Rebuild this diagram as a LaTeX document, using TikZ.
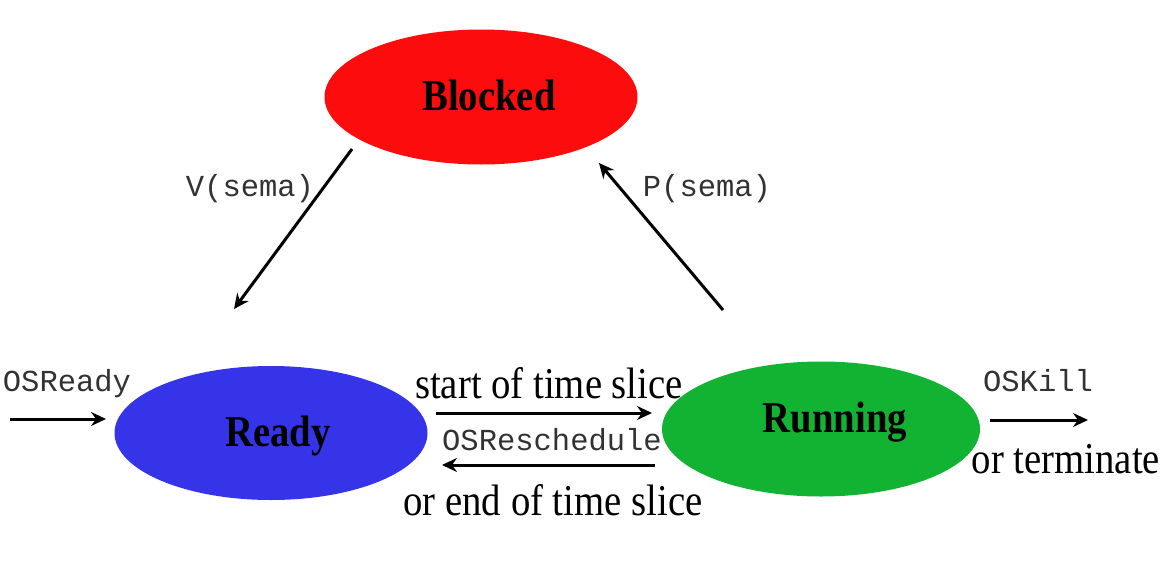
\documentclass[tikz,border=0pt]{standalone}
\usepackage{fontspec}
\usetikzlibrary{shapes.geometric,arrows.meta}
\newfontfamily\lblserif[FakeStretch=0.88]{Liberation Serif}
\newfontfamily\lblmono{Liberation Mono}
\definecolor{blockedred}{RGB}{252,12,12}
\definecolor{readyblue}{RGB}{54,52,232}
\definecolor{runninggreen}{RGB}{18,178,50}
\definecolor{monogray}{RGB}{50,50,50}
\tikzset{
  statebox/.style={ellipse, draw=none, inner sep=0pt, minimum width=#1},
  statetext/.style={anchor=base, font=\fontsize{44}{48}\selectfont\lblserif\bfseries},
  serlabel/.style={anchor=base, font=\fontsize{44}{48}\selectfont\lblserif},
  monolabel/.style={anchor=base, text=monogray, font=\fontsize{30.5}{34}\selectfont\lblmono},
  arr/.style={line width=3pt, -{Stealth[length=15pt,width=14pt,inset=5pt]}}
}
\begin{document}
\begin{tikzpicture}[x=1pt,y=-1pt]
\useasboundingbox (0,0) rectangle (1176,573);
% states
\node[statebox=313pt, minimum height=135pt, fill=blockedred] (blocked) at (481,97) {};
\node[statebox=313pt, minimum height=134pt, fill=readyblue] (ready) at (271,433) {};
\node[statebox=318pt, minimum height=135pt, fill=runninggreen] (running) at (821,429) {};
\node[statetext] (blockedt) at (489,110) {Blocked};
\node[statetext] (readyt) at (278,446) {Ready};
\node[statetext] (runningt) at (835,432) {Running};
% connector end points
\coordinate (vs) at (352,149);
\coordinate (ve) at (234,309);
\coordinate (ps) at (723,310);
\coordinate (pe) at (599,163);
\coordinate (ss) at (436,413);
\coordinate (se) at (652,413);
\coordinate (es) at (655,465);
\coordinate (ee) at (442,465);
\coordinate (rs) at (10,419);
\coordinate (re) at (106,419);
\coordinate (ks) at (990,420);
\coordinate (ke) at (1088,420);
% connectors
\draw[arr] (vs) -- (ve);
\draw[arr] (ps) -- (pe);
\draw[arr] (ss) -- (se);
\draw[arr] (es) -- (ee);
\draw[arr] (rs) -- (re);
\draw[arr] (ks) -- (ke);
% labels
\node[monolabel] (vlab) at (250,196) {V(sema)};
\node[monolabel] (plab) at (707,196) {P(sema)};
\node[serlabel] (startlab) at (549,398) {start of time slice};
\node[monolabel] (reschlab) at (552,450) {OSReschedule};
\node[serlabel] (endlab) at (553,515) {or end of time slice};
\node[monolabel] (readylab) at (67,391) {OSReady};
\node[monolabel] (killlab) at (1038,391) {OSKill};
\node[serlabel] (termlab) at (1066,473) {or terminate};
\end{tikzpicture}
\end{document}
